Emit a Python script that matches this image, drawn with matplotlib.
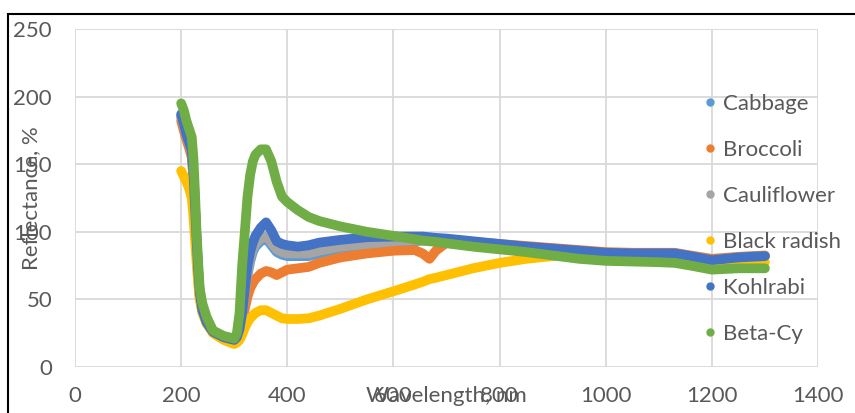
import matplotlib
matplotlib.use('Agg')
import matplotlib.pyplot as plt
from matplotlib.lines import Line2D
from matplotlib.patches import Rectangle

# wavelength grid (nm)
wavelength = [200, 205, 210, 215, 220, 223, 226, 229, 232, 235, 240, 248, 260, 280,
              300, 305, 310, 315, 320, 325, 330, 335, 340, 350, 360, 370, 380, 390,
              400, 420, 440, 460, 500, 550, 600, 640, 655, 668, 680, 700, 750, 800,
              850, 900, 950, 1000, 1050, 1100, 1130, 1160, 1200, 1250, 1300]

cabbage = [185, 178, 170, 164, 158, 143, 118, 93, 70, 53, 42, 33, 26, 22,
           20, 22, 27, 37, 53, 68, 78, 85, 89, 93, 95, 90, 85, 83,
           82, 82, 82, 84, 88, 90, 92, 93, 93.5, 93.5, 93.5, 93.5, 92, 90,
           88.5, 87, 85.5, 84, 84, 84, 84, 82, 79, 81, 82]
broccoli = [182, 175, 168, 162, 155, 140, 115, 90, 68, 52, 42, 33, 26, 22,
            20, 21, 25, 33, 43, 52, 58, 62, 65, 69, 71, 70, 68, 70,
            72, 73, 74, 77, 81, 84, 86, 86.5, 84, 80, 86, 92, 92.5, 91,
            89.5, 88, 86.5, 85, 84.5, 84.5, 84.5, 82.5, 80, 81.5, 82.5]
cauliflower = [186, 179, 171, 165, 159, 144, 119, 94, 71, 54, 42, 33, 26, 22,
               20, 22, 27, 38, 55, 70, 80, 87, 91, 95, 97, 92, 87, 85,
               84, 84, 84, 86, 89, 91, 93, 94, 94.5, 94.5, 94.5, 94, 92.5, 90.5,
               88.5, 87, 85.5, 84, 84, 84, 84, 82, 79, 81, 82]
black_radish = [145, 141, 137, 132, 125, 112, 95, 78, 62, 50, 40, 32, 25, 20,
                17, 18, 20, 24, 29, 33, 36, 38, 40, 42, 42, 40, 38, 36,
                35.5, 35.5, 36, 38, 43, 50, 56, 61, 63, 65, 66, 68, 73, 77,
                80, 82, 82.5, 82.5, 82, 81.5, 81, 79, 76, 77, 77.5]
kohlrabi = [187, 180, 172, 166, 160, 145, 120, 95, 72, 55, 42, 33, 26, 22,
            20, 22, 28, 40, 58, 75, 85, 92, 97, 103, 107, 101, 93, 91,
            90, 89, 90, 92, 94, 96, 96.5, 96.5, 96.5, 96, 95.5, 95, 93, 91,
            89, 87.5, 86, 84.5, 84, 84, 84, 82, 79, 81, 82]
beta_cy = [195, 190, 182, 176, 170, 155, 130, 100, 78, 58, 47, 37, 27, 23,
           21, 25, 40, 75, 100, 126, 142, 152, 157, 161, 161, 152, 137, 126,
           122, 116, 111, 108, 104, 100, 97, 94.5, 93.5, 93, 92.5, 91.5, 89, 87,
           85, 82.5, 80, 78.5, 78, 77.5, 77, 75, 72, 73, 73]

names = ['Cabbage', 'Broccoli', 'Cauliflower', 'Black radish', 'Kohlrabi', 'Beta-Cy']
series = [cabbage, broccoli, cauliflower, black_radish, kohlrabi, beta_cy]
colors = ['#5B9BD5', '#ED7D31', '#A5A5A5', '#FFC000', '#4472C4', '#70AD47']

plt.rcParams['font.family'] = ['Lato', 'DejaVu Sans']
text_color = '#595959'
fs = 16

fig = plt.figure(figsize=(8.55, 4.13), dpi=100)
ax = fig.add_axes([75 / 855, 1 - 367 / 413, (818 - 75) / 855, (367 - 29) / 413])

for ys, c in zip(series, colors):
    ax.plot(wavelength, ys, color=c, lw=7, solid_capstyle='round',
            solid_joinstyle='round', zorder=3)

ax.set_xlim(0, 1400)
ax.set_ylim(0, 250)
ax.set_xticks(range(0, 1401, 200))
ax.set_yticks(range(0, 251, 50))
ax.grid(True, color='#d9d9d9', lw=1.3)
ax.set_axisbelow(True)
for s in ax.spines.values():
    s.set_visible(False)
ax.tick_params(length=0, labelsize=fs, labelcolor=text_color)
ax.tick_params(axis='x', pad=14)
ax.tick_params(axis='y', pad=16.5)

fig.text(446 / 855, 1 - 396 / 413, 'Wavelength, nm', ha='center', va='center',
         fontsize=fs, color=text_color)
fig.text(31 / 855, 1 - 198 / 413, 'Reflectance, %', ha='center', va='center',
         rotation=90, fontsize=fs, color=text_color)

handles = [Line2D([], [], ls='none', marker='o', ms=5, color=c) for c in colors]
ax.legend(handles, names, loc='upper left', bbox_to_anchor=(704 / 855, 1 - 94 / 413),
          bbox_transform=fig.transFigure, frameon=False, fontsize=fs,
          labelcolor=text_color, handlelength=0.5, handletextpad=0.35,
          labelspacing=1.17, borderpad=0, borderaxespad=0)

# outer chart frame (only left and top edges visible)
fig.add_artist(Rectangle((8 / 855, -0.1), 1.2, 1 - 14 / 413 + 0.1,
                         transform=fig.transFigure, fill=False, ec='black', lw=1.5))

fig.savefig('out.png', dpi=100)
